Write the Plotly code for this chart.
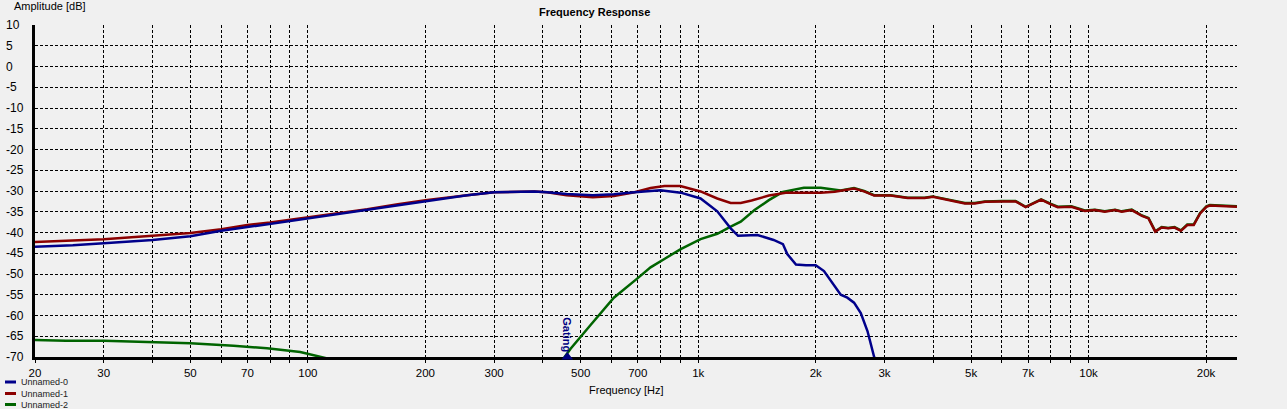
import numpy as np
import plotly.graph_objects as go

# ---------------- data ----------------
freq_red = [20, 25, 30, 40, 50, 60, 70, 80, 96, 117, 142, 170, 200, 256, 300, 380, 410, 460, 537, 608, 687,
            755, 820, 900, 1014, 1119, 1211, 1285, 1370, 1517, 1676, 2060, 2237, 2507, 2660, 2823, 3110, 3440,
            3800, 3990, 4370, 4820, 5110, 5430, 6000, 6500, 6900, 7560, 8010, 8335, 9030, 9783, 10380, 11000,
            11690, 12160, 12900, 13700, 14240, 14530, 14820, 15390, 15990, 16600, 17240, 17900, 18590, 19310,
            20040, 20440, 24000]
db_red = [-42.3, -42.0, -41.6, -40.8, -40.1, -39.2, -38.2, -37.6, -36.6, -35.5, -34.4, -33.2, -32.2, -31.0, -30.3,
          -30.1, -30.3, -31.0, -31.5, -31.2, -30.3, -29.3, -28.8, -28.8, -30.1, -31.8, -32.9, -32.9, -32.3, -31.1,
          -30.4, -30.4, -30.2, -29.4, -30.1, -31.1, -31.1, -31.7, -31.7, -31.4, -32.1, -33.0, -33.0, -32.6, -32.5,
          -32.5, -33.9, -32.1, -33.2, -33.9, -33.8, -34.8, -34.6, -35.0, -34.6, -35.0, -34.6, -36.0, -36.6, -38.2,
          -39.8, -38.8, -39.0, -38.8, -39.6, -38.2, -38.2, -35.4, -33.8, -33.5, -33.8]

freq_blue = [20, 25, 30, 40, 50, 60, 70, 80, 96, 117, 142, 170, 200, 256, 300, 380, 410, 460, 537, 608, 687,
             755, 800, 902, 1014, 1119, 1211, 1265, 1418, 1560, 1648, 1691, 1726, 1780, 1888, 2000, 2100, 2220,
             2318, 2410, 2507, 2609, 2715, 2823, 2900]
db_blue = [-43.45, -43.1, -42.6, -41.8, -40.9, -39.6, -38.7, -37.9, -36.8, -35.6, -34.5, -33.3, -32.3, -31.0,
           -30.3, -30.1, -30.3, -30.7, -31.0, -30.8, -30.3, -29.9, -29.8, -30.4, -31.8, -34.9, -39.0, -40.8,
           -40.6, -41.8, -42.8, -45.2, -46.1, -47.7, -47.9, -47.9, -49.3, -52.5, -55.0, -55.7, -56.9, -59.4,
           -63.8, -70.0, -73.0]

freq_green = [20, 24, 30, 40, 50, 64.5, 78.6, 95.6, 109, 115, None, 450, 471, 530, 608, 700, 755, 825, 902,
              1014, 1119, 1211, 1285, 1394, 1517, 1648, 1865, 2060, 2237, 2318, 2507, 2660, 2823, 3110, 3440,
              3800, 3990, 4370, 4820, 5110, 5430, 6000, 6500, 6900, 7560, 8010, 8335, 9030, 9783, 10380, 11000,
              11690, 12160, 12900, 13700, 14240, 14530, 14820, 15390, 15990, 16600, 17240, 17900, 18590, 19310,
              20040, 20440, 24000]
db_green = [-65.9, -66.1, -66.1, -66.4, -66.7, -67.3, -67.9, -68.8, -70.0, -70.6, None, -70.6, -68.0, -62.3,
            -55.7, -51.0, -48.4, -46.2, -44.0, -41.6, -40.3, -38.6, -37.4, -34.6, -32.2, -30.2, -29.2, -29.2,
            -29.8, -29.9, -29.3, -30.0, -31.0, -31.0, -31.6, -31.6, -31.3, -32.0, -32.9, -32.9, -32.5, -32.4,
            -32.4, -33.8, -32.0, -33.1, -33.8, -33.7, -34.7, -34.5, -34.9, -34.5, -34.9, -34.5, -35.9, -36.5,
            -38.1, -39.7, -38.7, -38.9, -38.7, -39.5, -38.1, -38.1, -35.3, -33.7, -33.4, -33.7]

series_names = ["Unnamed-0", "Unnamed-1", "Unnamed-2"]

gating_freq = 462

x_grid = [20, 30, 40, 50, 60, 70, 80, 90, 100, 200, 300, 400, 500, 600, 700, 800, 900,
          1000, 2000, 3000, 4000, 5000, 6000, 7000, 8000, 9000, 10000, 20000]
x_labels = ["20", "30", "", "50", "", "70", "", "", "100", "200", "300", "", "500", "", "700", "", "",
            "1k", "2k", "3k", "", "5k", "", "7k", "", "", "10k", "20k"]
y_ticks = list(range(-70, 15, 5))

# ---------------- style ----------------
W, H = 1287, 409
ML, MR, MT, MB = 35, 50, 25, 52
PW, PH = W - ML - MR, H - MT - MB
BG = "#F0F0F0"
FONT = "Liberation Sans, Arial, sans-serif"
C_BLUE = "#00008B"
C_RED = "#8B0000"
C_GREEN = "#006400"


def px_x(p):
    return (p - ML) / PW


def px_y(p):
    return (MT + PH - p) / PH


fig = go.Figure()
fig.add_trace(go.Scatter(x=freq_green, y=db_green, mode="lines", name=series_names[2],
                         line=dict(color=C_GREEN, width=2.5), connectgaps=False))
fig.add_trace(go.Scatter(x=freq_red, y=db_red, mode="lines", name=series_names[1],
                         line=dict(color=C_RED, width=2.5)))
fig.add_trace(go.Scatter(x=freq_blue, y=db_blue, mode="lines", name=series_names[0],
                         line=dict(color=C_BLUE, width=2.5)))
# gating marker (on the bottom edge of the plot)
fig.add_trace(go.Scatter(x=[gating_freq], y=[-70], mode="markers", showlegend=False,
                         marker=dict(symbol="triangle-up", size=10, color="#000080",
                                     line=dict(width=0)),
                         cliponaxis=False))

annotations = []
# y tick labels (left aligned like the original)
for v in y_ticks:
    annotations.append(dict(x=px_x(4), xref="paper", xanchor="left", y=v, yref="y", yanchor="middle",
                            text=str(v), showarrow=False, font=dict(family=FONT, size=12, color="#000")))
annotations += [
    dict(x=px_x(594.5), xref="paper", xanchor="center", y=px_y(12), yref="paper", yanchor="middle",
         text="<b>Frequency Response</b>", showarrow=False, font=dict(family=FONT, size=11, color="#000")),
    dict(x=px_x(12), xref="paper", xanchor="left", y=px_y(6.5), yref="paper", yanchor="middle",
         text="Amplitude [dB]", showarrow=False, font=dict(family=FONT, size=11, color="#000")),
    dict(x=px_x(626), xref="paper", xanchor="center", y=px_y(390), yref="paper", yanchor="middle",
         text="Frequency [Hz]", showarrow=False, font=dict(family=FONT, size=11, color="#000")),
    dict(x=np.log10(gating_freq), xref="x", xanchor="center", y=-64.6, yref="y", yanchor="middle",
         text="<b>Gating</b>", textangle=90, showarrow=False,
         font=dict(family=FONT, size=11, color="#000080")),
]

shapes = []
legend_colors = [C_BLUE, C_RED, C_GREEN]
legend_y = [382, 393.5, 404.5]
for name, col, yy in zip(series_names, legend_colors, legend_y):
    shapes.append(dict(type="line", xref="paper", yref="paper", x0=px_x(5), x1=px_x(16),
                       y0=px_y(yy), y1=px_y(yy), line=dict(color=col, width=3)))
    annotations.append(dict(x=px_x(19), xref="paper", xanchor="left", y=px_y(yy), yref="paper",
                            yanchor="middle", text=name, showarrow=False,
                            font=dict(family=FONT, size=9, color="#222")))

fig.update_layout(
    width=W, height=H,
    margin=dict(l=ML, r=MR, t=MT, b=MB, pad=0),
    paper_bgcolor=BG, plot_bgcolor=BG,
    showlegend=False,
    annotations=annotations,
    shapes=shapes,
    font=dict(family=FONT, size=11, color="#000"),
)
fig.update_xaxes(type="log", range=[np.log10(20), np.log10(24000)],
                 tickmode="array", tickvals=x_grid, ticktext=x_labels,
                 showgrid=True, gridcolor="black", gridwidth=1, griddash="3px,2px",
                 showline=True, linecolor="black", linewidth=3,
                 ticks="outside", ticklen=3, tickwidth=1, tickcolor="black",
                 tickfont=dict(family=FONT, size=11.5, color="#000"),
                 zeroline=False, fixedrange=True, layer="below traces")
fig.update_yaxes(range=[-70, 10], tickmode="array", tickvals=y_ticks, showticklabels=False,
                 showgrid=True, gridcolor="black", gridwidth=1, griddash="3px,2px",
                 showline=True, linecolor="black", linewidth=3, ticks="",
                 zeroline=False, fixedrange=True, layer="below traces")

fig.write_html("out.html", config={"displayModeBar": False})
